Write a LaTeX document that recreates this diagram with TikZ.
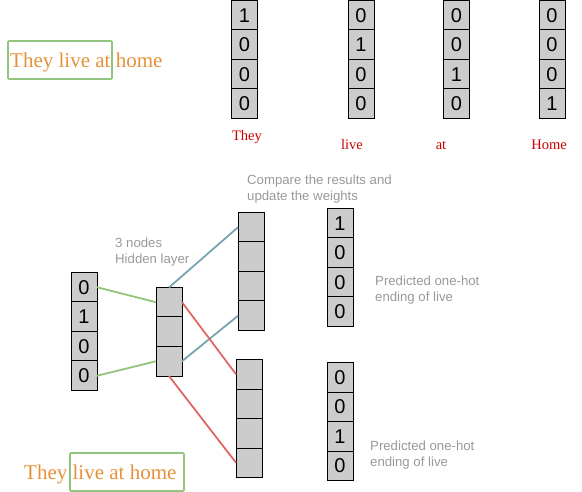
\documentclass[tikz,border=0pt]{standalone}
\usepackage{fontspec}
\setmainfont{Liberation Serif}
\newfontfamily\arialfont{Liberation Sans}
\usetikzlibrary{positioning}
\definecolor{cellgray}{HTML}{CCCCCC}
\definecolor{wordred}{HTML}{CC0000}
\definecolor{sentorange}{HTML}{E69138}
\definecolor{boxgreen}{HTML}{93C47D}
\definecolor{linkblue}{HTML}{76A5AF}
\definecolor{linkred}{HTML}{E06666}
\definecolor{notegray}{HTML}{999999}

\begin{document}
\begin{tikzpicture}[
    x=1pt, y=-1pt,
    cell/.style={rectangle, draw=black, fill=cellgray, line width=1pt, outer sep=0pt,
                 minimum width=26pt, minimum height=29.5pt, inner sep=0pt,
                 font=\arialfont\fontsize{20}{20}\selectfont},
    word/.style={text=wordred, inner sep=0pt, font=\fontsize{14.5}{16}\selectfont},
    sentence/.style={text=sentorange, inner sep=0pt, anchor=west, font=\fontsize{21}{24}\selectfont},
    frame/.style={draw=boxgreen, line width=1.6pt, rounded corners=1pt, inner sep=0pt},
    note/.style={text=notegray, align=left, anchor=west, inner sep=0pt,
                 font=\arialfont\fontsize{13.2}{16}\selectfont},
    link/.style={line width=1.8pt}
]

% FIXED BOUNDING BOX
\path[use as bounding box] (0,0) rectangle (582,492);

% one-hot vectors of the words
\foreach \v [count=\i] in {1,0,0,0}
  \node[cell] (T\i) at (244.5, 29.5*\i-14.25) {\v};
\foreach \v [count=\i] in {0,1,0,0}
  \node[cell] (L\i) at (361, 29.5*\i-14.25) {\v};
\foreach \v [count=\i] in {0,0,1,0}
  \node[cell] (A\i) at (456.5, 29.5*\i-14.25) {\v};
\foreach \v [count=\i] in {0,0,0,1}
  \node[cell] (H\i) at (552, 29.5*\i-14.25) {\v};

\node[word] (they) at (247,137) {They};
\node[word] (live) at (352,145) {live};
\node[word] (at)   at (441,145) {at};
\node[word] (home) at (549,145) {Home};

% sentences
\node[frame, minimum width=104pt, minimum height=38pt] (topbox) at (60,60) {};
\node[sentence] (topsent) at (10,62) {They live at home};
\node[frame, minimum width=114pt, minimum height=38pt] (botbox) at (127,472) {};
\node[sentence] (botsent) at (24,474) {They live at home};

% network
\foreach \v [count=\i] in {0,1,0,0}
  \node[cell] (I\i) at (84, 272+29.5*\i-14.25) {\v};
\foreach \i in {1,2,3}
  \node[cell] (N\i) at (169, 287+29.5*\i-14.25) {};
\foreach \i in {1,...,4}
  \node[cell] (O\i) at (251, 212+29.5*\i-14.25) {};
\foreach \i in {1,...,4}
  \node[cell] (Q\i) at (249, 359+29.5*\i-14.25) {};
\foreach \v [count=\i] in {1,0,0,0}
  \node[cell] (P\i) at (340, 208+29.5*\i-14.25) {\v};
\foreach \v [count=\i] in {0,0,1,0}
  \node[cell] (R\i) at (340, 362+29.5*\i-14.25) {\v};

\draw[link, boxgreen] (I1.east) -- (N1.west);
\draw[link, boxgreen] (I4.east) -- (N3.west);
\draw[link, linkblue] (N1.north) -- (O1.west);
\draw[link, linkblue] (N3.east) -- (O4.west);
\draw[link, linkred]  (N1.east) -- (Q1.west);
\draw[link, linkred]  (N3.south) -- (Q4.west);

\node[note] (compare) at (247,189) {Compare the results and\\update the weights};
\node[note] (hidden)  at (115,252) {3 nodes\\Hidden layer};
\node[note] (pred1)   at (375,290) {Predicted one-hot\\ending of live};
\node[note] (pred2)   at (370,455) {Predicted one-hot\\ending of live};

\end{tikzpicture}
\end{document}
